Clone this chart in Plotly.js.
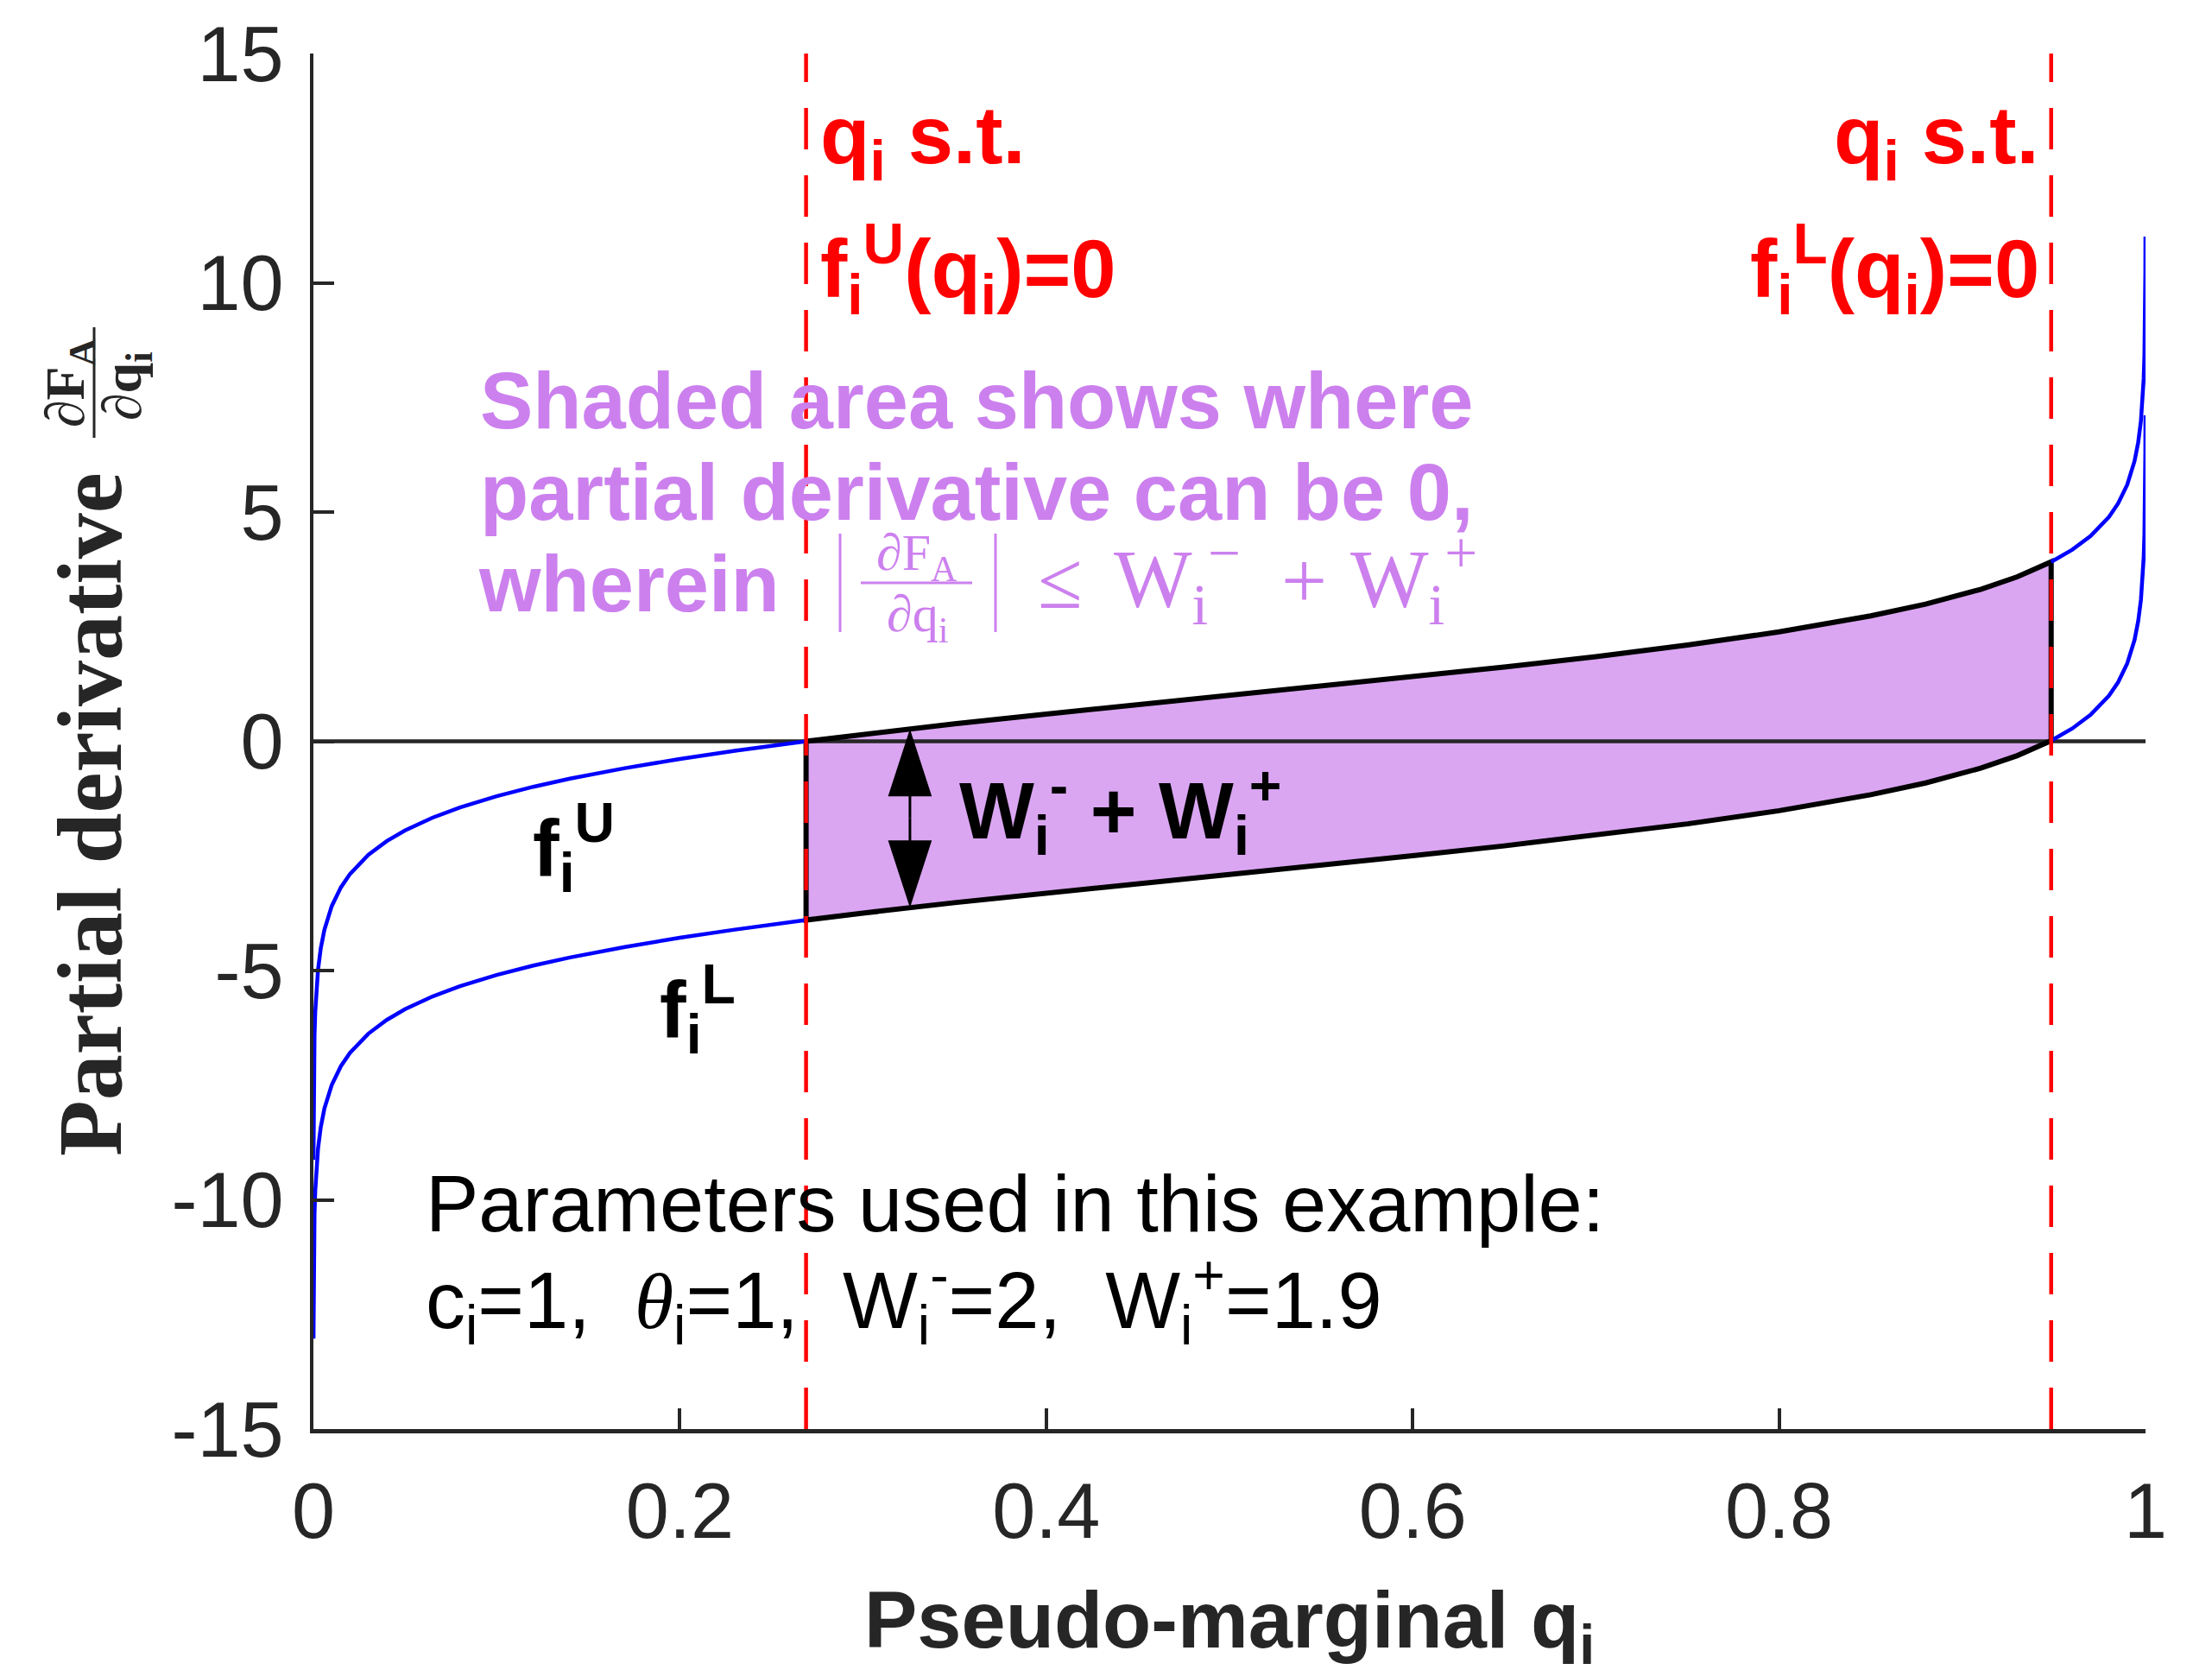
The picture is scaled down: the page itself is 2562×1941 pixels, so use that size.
<!DOCTYPE html>
<html><head><meta charset="utf-8">
<script src="https://cdn.plot.ly/plotly-3.0.1.min.js"></script>
<style>html,body{margin:0;padding:0;background:#fff;} #chart{width:2562px;height:1941px;}</style>
</head><body><div id="chart"></div>
<script>
// ---------- data ----------
const qLeft  = [0.00004,0.00006,0.0001,0.00015,0.00025,0.0004,0.0006,0.001,0.0015,0.0025,0.004,0.006,0.01,0.015,0.02,0.03,0.04,0.05,0.065,0.08,0.1,0.12,0.14,0.17,0.2,0.23,0.2689];
const fULeft = [-9.127,-8.721,-8.210,-7.805,-7.294,-6.824,-6.418,-5.907,-5.501,-4.989,-4.518,-4.110,-3.595,-3.185,-2.892,-2.476,-2.178,-1.944,-1.666,-1.442,-1.197,-0.992,-0.815,-0.586,-0.386,-0.208,0.000];
const fLLeft = [-13.027,-12.621,-12.110,-11.705,-11.194,-10.724,-10.318,-9.807,-9.401,-8.889,-8.418,-8.010,-7.495,-7.085,-6.792,-6.376,-6.078,-5.844,-5.566,-5.342,-5.097,-4.892,-4.715,-4.486,-4.286,-4.108,-3.900];

const qMid  = [0.2689,0.3,0.35,0.4,0.45,0.5,0.55,0.6,0.65,0.7,0.75,0.8,0.85,0.88,0.91,0.93,0.94,0.9485];
const fUMid = [0.000,0.153,0.381,0.595,0.799,1.000,1.201,1.405,1.619,1.847,2.099,2.386,2.735,2.992,3.314,3.587,3.752,3.913];
const fLMid = [-3.900,-3.747,-3.519,-3.305,-3.101,-2.900,-2.699,-2.495,-2.281,-2.053,-1.801,-1.514,-1.165,-0.908,-0.586,-0.313,-0.148,0.013];

const qRight  = [0.9485,0.96,0.97,0.98,0.985,0.99,0.994,0.996,0.9975,0.9985,0.999,0.9994,0.9996,0.99975,0.99985,0.9999,0.99994,0.999955];
const fURight = [3.913,4.178,4.476,4.892,5.185,5.595,6.110,6.518,6.989,7.501,7.907,8.418,8.824,9.294,9.805,10.210,10.721,11.009];
const fLRight = [0.013,0.278,0.576,0.992,1.285,1.695,2.210,2.618,3.089,3.601,4.007,4.518,4.924,5.394,5.905,6.310,6.821,7.109];

const qCross = [0.2689, 0.9485];      // q where f^U = 0 and f^L = 0
const xRange = [0, 1];
const yRange = [-15, 15];
const zeroY  = [0, 0];
const arrowQ = [0.3256, 0.3256];
const arrowUp   = [-1.68, 0.27];
const arrowDown = [-1.68, -3.63];

const xTicks = [0, 0.2, 0.4, 0.6, 0.8, 1];
const xTickText = ['0', '0.2', '0.4', '0.6', '0.8', '1'];
const yTicks = [-15, -10, -5, 0, 5, 10, 15];
const yTickText = ['-15', '-10', '-5', '0', '5', '10', '15'];

// ---------- styling ----------
const SANS = '"Liberation Sans", Arial, Helvetica, sans-serif';
const SERIF = '"Liberation Serif", "Times New Roman", serif';
const AX = '#262626';
const BLUE = '#0000FF';
const RED = '#FF0000';
const PURPLE = '#CC80EE';
const FILL = '#DAA6F2';

// pixel -> paper helpers (plot area: x 363..2485, y 62..1655)
const X = px => (px - 363) / 2122;
const Y = py => (1655 - py) / 1593;

const polyX = qMid.concat(qMid.slice().reverse());
const polyY = fUMid.concat(fLMid.slice().reverse());
const outlineX = polyX.concat([qMid[0]]);
const outlineY = polyY.concat([fUMid[0]]);

const arrowMarker = {symbol: 'arrow', size: [0, 82], angleref: 'previous', color: '#000000', opacity: 1, line: {width: 0}};

const traces = [
  {x: polyX, y: polyY, mode: 'lines', fill: 'toself', fillcolor: FILL, line: {width: 0, color: FILL}, hoverinfo: 'skip'},
  {x: xRange, y: zeroY, mode: 'lines', line: {color: AX, width: 4.5}, hoverinfo: 'skip'},
  {x: outlineX, y: outlineY, mode: 'lines', line: {color: '#000000', width: 6}, hoverinfo: 'skip'},
  {x: qLeft, y: fULeft, mode: 'lines', line: {color: BLUE, width: 4.5}},
  {x: qLeft, y: fLLeft, mode: 'lines', line: {color: BLUE, width: 4.5}},
  {x: qRight, y: fURight, mode: 'lines', line: {color: BLUE, width: 4.5}},
  {x: qRight, y: fLRight, mode: 'lines', line: {color: BLUE, width: 4.5}},
  {x: [qCross[0], qCross[0]], y: yRange, mode: 'lines', line: {color: RED, width: 4.5, dash: '48px,30px'}},
  {x: [qCross[1], qCross[1]], y: yRange, mode: 'lines', line: {color: RED, width: 4.5, dash: '48px,30px'}},
  {x: arrowQ, y: arrowUp, mode: 'lines+markers', opacity: 1, line: {color: '#000000', width: 3}, marker: arrowMarker},
  {x: arrowQ, y: arrowDown, mode: 'lines+markers', opacity: 1, line: {color: '#000000', width: 3}, marker: arrowMarker}
];

function ann(text, x, y, opts) {
  return Object.assign({
    text: text, x: x, y: y, xref: 'paper', yref: 'paper',
    xanchor: 'left', yanchor: 'middle', showarrow: false,
    font: {family: SANS, size: 92, color: '#000'}
  }, opts || {});
}

const annotations = [
  // red labels
  ann('<b>q<sub>i</sub> s.t.</b>', qCross[0], Y(163), {xref: 'x', xshift: 14, font: {family: SANS, size: 94, color: RED}}),
  ann('<b>f<sub>i</sub><sup>U</sup>(q<sub>i</sub>)=0</b>', qCross[0], Y(312), {xref: 'x', xshift: 14, font: {family: SANS, size: 94, color: RED}}),
  ann('<b>q<sub>i</sub> s.t.</b>', qCross[1], Y(163), {xref: 'x', xanchor: 'right', xshift: -12, font: {family: SANS, size: 94, color: RED}}),
  ann('<b>f<sub>i</sub><sup>L</sup>(q<sub>i</sub>)=0</b>', qCross[1], Y(312), {xref: 'x', xanchor: 'right', xshift: -12, font: {family: SANS, size: 94, color: RED}}),
  // purple explanation
  ann('<b>Shaded area shows where</b>', X(554), Y(464), {font: {family: SANS, size: 92, color: PURPLE}}),
  ann('<b>partial derivative can be 0,</b>', X(554), Y(570), {font: {family: SANS, size: 92, color: PURPLE}}),
  ann('<b>wherein</b>', X(552), Y(676), {font: {family: SANS, size: 92, color: PURPLE}}),
  ann('∂F<sub>A</sub>', X(1062), Y(644), {xanchor: 'center', font: {family: SERIF, size: 60, color: PURPLE}}),
  ann('∂q<sub>i</sub>', X(1062), Y(716), {xanchor: 'center', font: {family: SERIF, size: 60, color: PURPLE}}),
  ann('≤', X(1228), Y(672), {xanchor: 'center', font: {family: SERIF, size: 94, color: PURPLE}}),
  ann('W<sub>i</sub><sup>−</sup>', X(1288), Y(670), {font: {family: SERIF, size: 96, color: PURPLE}}),
  ann('+', X(1510), Y(672), {xanchor: 'center', font: {family: SERIF, size: 94, color: PURPLE}}),
  ann('W<sub>i</sub><sup>+</sup>', X(1562), Y(670), {font: {family: SERIF, size: 96, color: PURPLE}}),
  // black labels
  ann('<b>W<sub>i</sub><sup>-</sup> + W<sub>i</sub><sup>+</sup></b>', X(1109), Y(939)),
  ann('<b>f<sub>i</sub><sup>U</sup></b>', X(615), Y(982)),
  ann('<b>f<sub>i</sub><sup>L</sup></b>', X(762), Y(1169)),
  ann('Parameters used in this example:', X(491), Y(1394)),
  ann('c<sub>i</sub>=1,  <span style="font-family:\'Liberation Serif\',serif"><i>θ</i></span><sub>i</sub>=1,  W<sub>i</sub><sup>-</sup>=2,  W<sub>i</sub><sup>+</sup>=1.9', X(491), Y(1506)),
  // y-axis title (rotated)
  ann('<b>Partial derivative</b>', X(104), Y(943), {xanchor: 'center', textangle: -90, font: {family: SERIF, size: 106, color: AX}}),
  ann('<b>∂F<sub>A</sub></b>', X(80), Y(443), {xanchor: 'center', textangle: -90, font: {family: SERIF, size: 64, color: AX}}),
  ann('<b>∂q<sub>i</sub></b>', X(146), Y(447), {xanchor: 'center', textangle: -90, font: {family: SERIF, size: 64, color: AX}})
];

const shapes = [
  {type: 'line', xref: 'paper', yref: 'paper', x0: X(109), x1: X(109), y0: Y(379), y1: Y(507), line: {color: AX, width: 3}},
  {type: 'line', xref: 'paper', yref: 'paper', x0: X(973), x1: X(973), y0: Y(618), y1: Y(732), line: {color: PURPLE, width: 3}},
  {type: 'line', xref: 'paper', yref: 'paper', x0: X(1153), x1: X(1153), y0: Y(618), y1: Y(732), line: {color: PURPLE, width: 3}},
  {type: 'line', xref: 'paper', yref: 'paper', x0: X(997), x1: X(1126), y0: Y(675), y1: Y(675), line: {color: PURPLE, width: 3}}
];

const axisCommon = {
  showgrid: false, zeroline: false, showline: true, linecolor: AX, linewidth: 4.5,
  ticks: 'inside', ticklen: 24, tickwidth: 4, tickcolor: AX,
  tickfont: {family: SANS, size: 90, color: AX}, fixedrange: true, mirror: false
};

const layout = {
  width: 2562, height: 1941,
  margin: {l: 363, r: 77, t: 62, b: 286, pad: 0},
  paper_bgcolor: '#ffffff', plot_bgcolor: '#ffffff',
  showlegend: false,
  font: {family: SANS, color: AX},
  xaxis: Object.assign({}, axisCommon, {
    range: xRange, tickmode: 'array', tickvals: xTicks, ticktext: xTickText, ticklabelstandoff: 13,
    title: {text: '<b>Pseudo-marginal q<sub>i</sub></b>', font: {family: SANS, size: 92, color: AX}, standoff: 64}
  }),
  yaxis: Object.assign({}, axisCommon, {
    range: yRange, tickmode: 'array', tickvals: yTicks, ticktext: yTickText, ticklabelstandoff: 12,
    title: {text: ''}
  }),
  annotations: annotations,
  shapes: shapes
};

Plotly.newPlot('chart', traces, layout, {staticPlot: true, displayModeBar: false});
</script>
</body></html>
